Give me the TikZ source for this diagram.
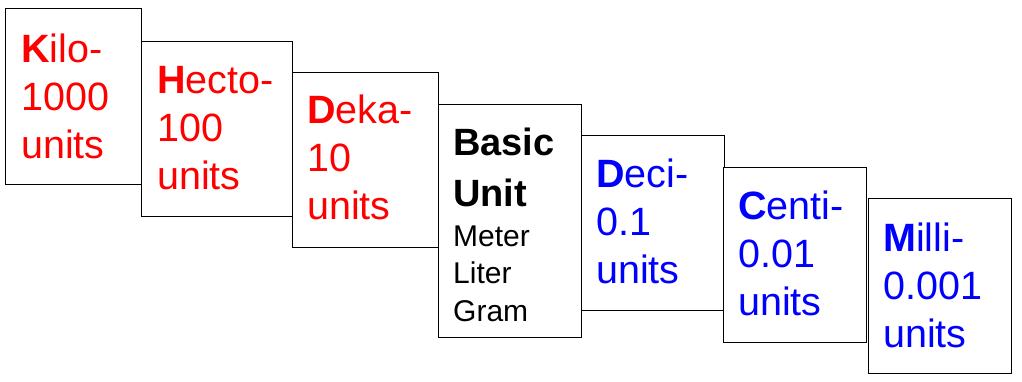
\documentclass[tikz,border=0pt]{standalone}
\usepackage{fontspec}
\setmainfont{Liberation Sans}
\definecolor{pred}{RGB}{255,0,0}
\definecolor{pblue}{RGB}{0,0,255}
\begin{document}
\begin{tikzpicture}[x=1pt,y=-1pt,
  box/.style={draw=black, line width=1.2pt, fill=white, inner sep=0pt, anchor=north west},
  lbl/.style={anchor=base west, inner sep=0pt, font=\fontsize{39.5}{48}\selectfont},
  redlbl/.style={lbl, text=pred},
  bluelbl/.style={lbl, text=pblue}]
\useasboundingbox (0,0) rectangle (1022,381);
\node[box, minimum width=136pt, minimum height=176pt] (kilo) at (5,8) {};
\node[box, minimum width=151pt, minimum height=175pt] (hecto) at (141,41) {};
\node[box, minimum width=146pt, minimum height=175pt] (deka) at (292,72) {};
\node[box, minimum width=143pt, minimum height=233pt] (basic) at (438,104) {};
\node[box, minimum width=143pt, minimum height=175pt] (deci) at (581,135) {};
\node[box, minimum width=143pt, minimum height=175pt] (centi) at (723,167) {};
\node[box, minimum width=143pt, minimum height=175pt] (milli) at (868,198) {};
\node[redlbl] (kilot) at ([xshift=16pt,yshift=-54pt]kilo.north west)
  {\vtop{\hbox{\textbf{K}ilo-}\hbox{1000}\hbox{units}}};
\node[redlbl] (hectot) at ([xshift=16pt,yshift=-52pt]hecto.north west)
  {\vtop{\hbox{\textbf{H}ecto-}\hbox{100}\hbox{units}}};
\node[redlbl] (dekat) at ([xshift=15pt,yshift=-51pt]deka.north west)
  {\vtop{\hbox{\textbf{D}eka-}\hbox{10}\hbox{units}}};
\node[lbl] (basict) at ([xshift=15pt,yshift=-51pt]basic.north west)
  {\vtop{\fontsize{38}{51}\selectfont\bfseries\hbox{Basic}\hbox{Unit}%
   \fontsize{30}{40}\selectfont\mdseries\hbox{Meter}\baselineskip=37.7pt\hbox{Liter}\hbox{Gram}}};
\node[bluelbl] (decit) at ([xshift=15pt,yshift=-52pt]deci.north west)
  {\vtop{\hbox{\textbf{D}eci-}\hbox{0.1}\hbox{units}}};
\node[bluelbl] (centit) at ([xshift=15pt,yshift=-52pt]centi.north west)
  {\vtop{\hbox{\textbf{C}enti-}\hbox{0.01}\hbox{units}}};
\node[bluelbl] (millit) at ([xshift=15pt,yshift=-53pt]milli.north west)
  {\vtop{\hbox{\textbf{M}illi-}\hbox{0.001}\hbox{units}}};
\end{tikzpicture}
\end{document}
